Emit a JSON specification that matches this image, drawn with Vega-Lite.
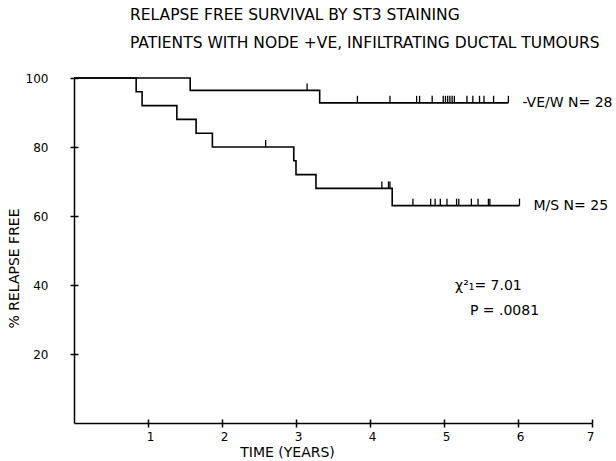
{
  "$schema": "https://vega.github.io/schema/vega-lite/v6.json",
  "width": 518,
  "height": 345,
  "autosize": "none",
  "padding": {"left": 74, "top": 78, "right": 24, "bottom": 38},
  "background": "white",
  "config": {
    "view": {"stroke": null},
    "font": "DejaVu Sans",
    "axis": {"domainColor": "black", "tickColor": "black", "labelColor": "black", "titleColor": "black", "domainWidth": 1.5, "tickWidth": 1.5, "grid": false, "labelFont": "DejaVu Sans", "titleFont": "DejaVu Sans", "titleFontWeight": "normal"}
  },
  "title": {
    "text": ["RELAPSE FREE SURVIVAL BY ST3 STAINING", "PATIENTS WITH NODE +VE,  INFILTRATING DUCTAL TUMOURS"],
    "anchor": "start",
    "frame": "group",
    "dx": 56,
    "offset": 21,
    "fontSize": 15.5,
    "fontWeight": "normal",
    "font": "DejaVu Sans",
    "color": "black",
    "lineHeight": 28
  },
  "resolve": {"axis": {"x": "independent", "y": "independent"}},
  "datasets": {
    "steps": [
      {"group": "-VE/W", "t": 0, "surv": 100},
      {"group": "-VE/W", "t": 1.57, "surv": 96.4},
      {"group": "-VE/W", "t": 3.32, "surv": 92.8},
      {"group": "-VE/W", "t": 5.87, "surv": 92.8},
      {"group": "M/S", "t": 0, "surv": 100},
      {"group": "M/S", "t": 0.84, "surv": 96},
      {"group": "M/S", "t": 0.92, "surv": 92},
      {"group": "M/S", "t": 1.39, "surv": 88},
      {"group": "M/S", "t": 1.65, "surv": 84},
      {"group": "M/S", "t": 1.87, "surv": 80},
      {"group": "M/S", "t": 2.97, "surv": 76},
      {"group": "M/S", "t": 3.0, "surv": 72},
      {"group": "M/S", "t": 3.27, "surv": 68},
      {"group": "M/S", "t": 4.3, "surv": 63},
      {"group": "M/S", "t": 6.02, "surv": 63}
    ],
    "censor": [
      {"group": "-VE/W", "t": 3.15, "surv": 96.4},
      {"group": "-VE/W", "t": 3.83, "surv": 92.8},
      {"group": "-VE/W", "t": 4.27, "surv": 92.8},
      {"group": "-VE/W", "t": 4.63, "surv": 92.8},
      {"group": "-VE/W", "t": 4.67, "surv": 92.8},
      {"group": "-VE/W", "t": 4.84, "surv": 92.8},
      {"group": "-VE/W", "t": 4.99, "surv": 92.8},
      {"group": "-VE/W", "t": 5.02, "surv": 92.8},
      {"group": "-VE/W", "t": 5.05, "surv": 92.8},
      {"group": "-VE/W", "t": 5.08, "surv": 92.8},
      {"group": "-VE/W", "t": 5.11, "surv": 92.8},
      {"group": "-VE/W", "t": 5.14, "surv": 92.8},
      {"group": "-VE/W", "t": 5.31, "surv": 92.8},
      {"group": "-VE/W", "t": 5.39, "surv": 92.8},
      {"group": "-VE/W", "t": 5.48, "surv": 92.8},
      {"group": "-VE/W", "t": 5.54, "surv": 92.8},
      {"group": "-VE/W", "t": 5.67, "surv": 92.8},
      {"group": "-VE/W", "t": 5.87, "surv": 92.8},
      {"group": "M/S", "t": 2.59, "surv": 80},
      {"group": "M/S", "t": 4.16, "surv": 68},
      {"group": "M/S", "t": 4.25, "surv": 68},
      {"group": "M/S", "t": 4.27, "surv": 68},
      {"group": "M/S", "t": 4.58, "surv": 63},
      {"group": "M/S", "t": 4.82, "surv": 63},
      {"group": "M/S", "t": 4.88, "surv": 63},
      {"group": "M/S", "t": 4.95, "surv": 63},
      {"group": "M/S", "t": 5.04, "surv": 63},
      {"group": "M/S", "t": 5.17, "surv": 63},
      {"group": "M/S", "t": 5.2, "surv": 63},
      {"group": "M/S", "t": 5.37, "surv": 63},
      {"group": "M/S", "t": 5.46, "surv": 63},
      {"group": "M/S", "t": 5.6, "surv": 63},
      {"group": "M/S", "t": 5.62, "surv": 63},
      {"group": "M/S", "t": 6.02, "surv": 63}
    ],
    "labels": [
      {"group": "-VE/W", "t": 5.87, "surv": 92.8, "label": "-VE/W N= 28"},
      {"group": "M/S", "t": 6.02, "surv": 63, "label": "M/S N= 25"}
    ],
    "stats": [
      {"t": 5.15, "surv": 39.6, "label": "χ²₁= 7.01"},
      {"t": 5.35, "surv": 32.4, "label": "P = .0081"}
    ]
  },
  "layer": [
    {
      "data": {"name": "steps"},
      "mark": {"type": "line", "interpolate": "step-after", "color": "black", "strokeWidth": 1.6},
      "encoding": {
        "x": {"field": "t", "type": "quantitative", "scale": {"domain": [0, 7], "nice": false},
          "axis": {"orient": "bottom", "title": "TIME (YEARS)", "values": [1, 2, 3, 4, 5, 6, 7], "format": "d", "tickSize": 4, "labelPadding": 4, "labelOffset": 2, "labelFontSize": 12, "titleFontSize": 14, "titleX": 213, "titleY": 22, "titleAlign": "center", "titleBaseline": "top"}},
        "y": {"field": "surv", "type": "quantitative", "scale": {"domain": [0, 100], "nice": false},
          "axis": {"orient": "left", "title": "% RELAPSE FREE", "values": [20, 40, 60, 80, 100], "format": "d", "tickSize": 4, "labelPadding": 22, "labelAlign": "right", "labelFontSize": 12, "titleFontSize": 14, "titlePadding": 4, "titleY": 190}},
        "detail": {"field": "group"}
      }
    },
    {
      "data": {"name": "censor"},
      "mark": {"type": "rule", "color": "black", "strokeWidth": 1.3, "y2Offset": -7},
      "encoding": {
        "x": {"field": "t", "type": "quantitative",
          "axis": {"orient": "top", "offset": -345, "values": [1, 2, 3, 4, 5, 6, 7], "labels": false, "domain": false, "title": null, "tickSize": 4}},
        "y": {"field": "surv", "type": "quantitative",
          "axis": {"orient": "right", "offset": -518, "values": [20, 40, 60, 80, 100], "labels": false, "domain": false, "title": null, "tickSize": 4}},
        "y2": {"field": "surv"}
      }
    },
    {
      "data": {"name": "labels"},
      "mark": {"type": "text", "align": "left", "baseline": "middle", "dx": 14, "fontSize": 14, "color": "black"},
      "encoding": {
        "x": {"field": "t", "type": "quantitative", "axis": null},
        "y": {"field": "surv", "type": "quantitative", "axis": null},
        "text": {"field": "label"}
      }
    },
    {
      "data": {"name": "stats"},
      "mark": {"type": "text", "align": "left", "baseline": "middle", "fontSize": 14, "color": "black"},
      "encoding": {
        "x": {"field": "t", "type": "quantitative", "axis": null},
        "y": {"field": "surv", "type": "quantitative", "axis": null},
        "text": {"field": "label"}
      }
    }
  ]
}
